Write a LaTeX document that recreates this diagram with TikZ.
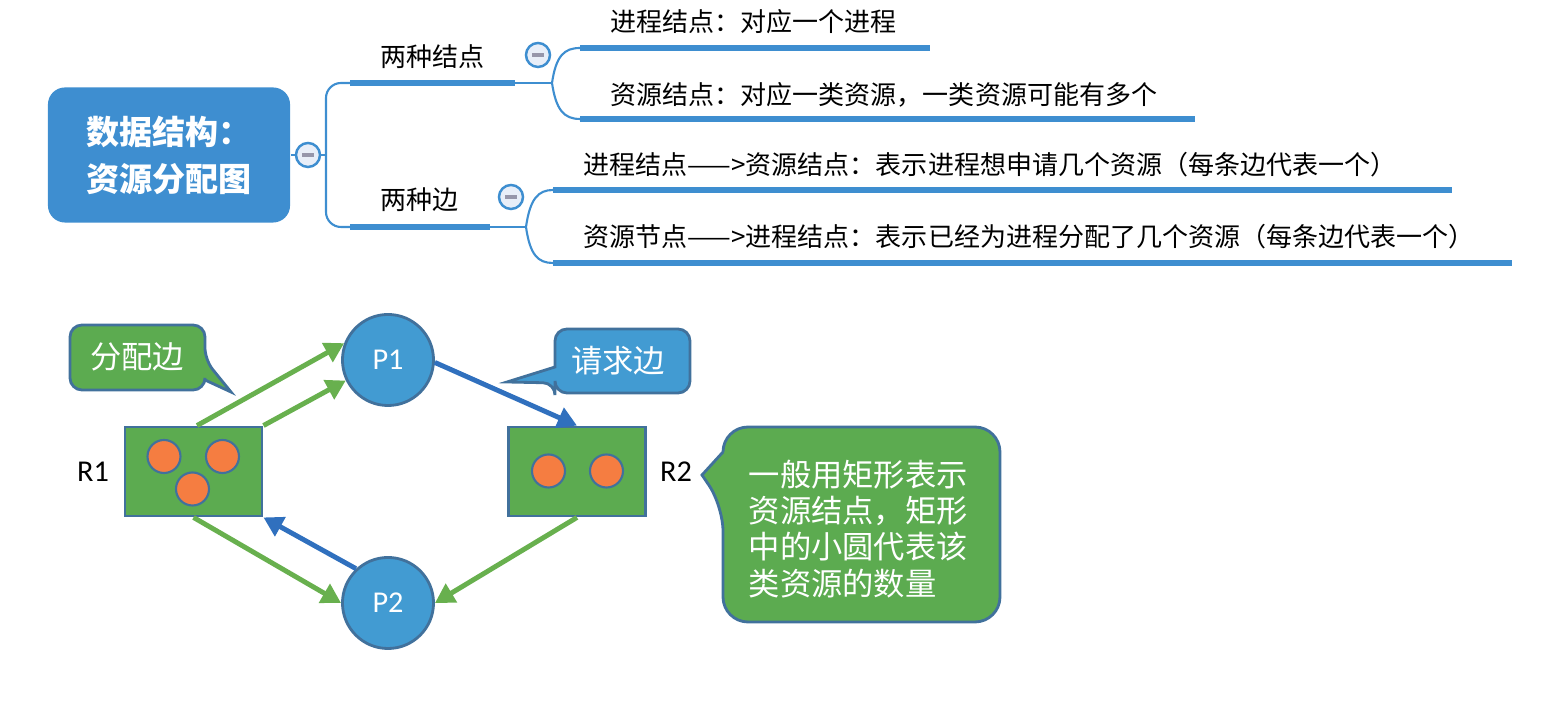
\documentclass[tikz,border=0pt]{standalone}
\usepackage{fontspec}
\newfontfamily\cjk{Noto Sans CJK SC}
\newfontfamily\calfont{Carlito}
\usetikzlibrary{arrows.meta}
\definecolor{mmblue}{RGB}{62,142,208}
\definecolor{cfill}{RGB}{232,238,248}
\definecolor{minusgray}{RGB}{150,150,170}
\definecolor{boxgreen}{RGB}{92,171,80}
\definecolor{circblue}{RGB}{66,155,210}
\definecolor{bordercol}{RGB}{65,113,156}
\definecolor{dotorange}{RGB}{245,125,65}
\definecolor{argreen}{RGB}{104,176,78}
\definecolor{arblue}{RGB}{48,112,190}
\begin{document}
\begin{tikzpicture}[x=0.01cm,y=-0.01cm,
  mmline/.style={draw=mmblue, line width=0.6pt},
  mmbar/.style={draw=mmblue, line width=1.7pt},
  mmtext/.style={font=\cjk\fontsize{7.4pt}{9pt}\selectfont, inner sep=0pt, anchor=west},
  collapse/.style={circle, draw=mmblue, fill=cfill, line width=0.7pt, minimum size=0.24cm, inner sep=0pt},
  minus/.style={draw=minusgray, line width=1.2pt},
  titlebox/.style={rectangle, rounded corners=1.7mm, fill=mmblue, draw=none, minimum width=2.42cm, minimum height=1.35cm, text=white, align=left, font=\cjk\bfseries\fontsize{9.4pt}{13.4pt}\selectfont},
  res/.style={rectangle, fill=boxgreen, draw=bordercol, line width=0.8pt, minimum width=1.37cm, minimum height=0.89cm, inner sep=0pt},
  dot/.style={circle, fill=dotorange, draw=bordercol, line width=0.6pt, minimum size=0.33cm, inner sep=0pt},
  proc/.style={circle, fill=circblue, draw=bordercol, line width=0.8pt, minimum size=0.91cm, inner sep=0pt, text=white, font=\calfont\fontsize{8.6pt}{10pt}\selectfont},
  lbl/.style={font=\calfont\fontsize{8.6pt}{10pt}\selectfont, inner sep=0pt},
  ctext/.style={font=\cjk\fontsize{8.9pt}{10.3pt}\selectfont, text=white, inner sep=0pt},
  callg/.style={fill=boxgreen, draw=bordercol, line width=0.8pt},
  callb/.style={fill=circblue, draw=bordercol, line width=0.8pt},
  garrow/.style={draw=argreen, line width=1.4pt, -{Triangle[length=5.5pt,width=6pt]}},
  barrow/.style={draw=arblue, line width=1.4pt, -{Triangle[length=5.5pt,width=6pt]}}
]
\useasboundingbox (0,0) rectangle (1568,713);

% ---------------- mind map ----------------
\node[titlebox] (root) at (169,155) {数据结构：\\资源分配图};
\node[collapse] (c0) at (308,155) {};
\draw[minus] ([xshift=-1.7pt]c0.center) -- ([xshift=1.7pt]c0.center);
\draw[mmline] (root.east) -- (c0.west);
\coordinate (j0) at (326,155);
\coordinate (a1) at (350,83);
\coordinate (a2) at (350,227);
\draw[mmline] (c0.east) -- (j0);
\draw[mmline, rounded corners=1.5mm] (a1) -- (326,83) -- (326,227) -- (a2);

\coordinate (b1) at (515,83);
\coordinate (b2) at (490,227);
\draw[mmbar] (a1) -- (b1);
\draw[mmbar] (a2) -- (b2);
\node[mmtext] (n1) at (380,57) {两种结点};
\node[mmtext] (n2) at (380,200) {两种边};

\node[collapse] (c1) at (538,55) {};
\draw[minus] ([xshift=-1.7pt]c1.center) -- ([xshift=1.7pt]c1.center);
\node[collapse] (c2) at (511,197) {};
\draw[minus] ([xshift=-1.7pt]c2.center) -- ([xshift=1.7pt]c2.center);

% top sub branch
\coordinate (k1) at (552,83);
\coordinate (s1) at (580,48);
\coordinate (s2) at (580,119);
\draw[mmline] (b1) -- (k1);
\draw[mmline] (k1) .. controls (556,56) and (564,48) .. (s1);
\draw[mmline] (k1) .. controls (556,110) and (564,119) .. (s2);
\draw[mmbar] (s1) -- (930,48);
\draw[mmbar] (s2) -- (1195,119);
\node[mmtext] (t1) at (610,22) {进程结点：对应一个进程};
\node[mmtext] (t2) at (610,95) {资源结点：对应一类资源，一类资源可能有多个};

% bottom sub branch
\coordinate (k2) at (526,227);
\coordinate (s3) at (553,190);
\coordinate (s4) at (553,263);
\draw[mmline] (b2) -- (k2);
\draw[mmline] (k2) .. controls (530,199) and (538,190) .. (s3);
\draw[mmline] (k2) .. controls (530,255) and (538,263) .. (s4);
\draw[mmbar] (s3) -- (1452,190);
\draw[mmbar] (s4) -- (1512,263);
\node[mmtext] (t3) at (583,165) {进程结点——>资源结点：表示进程想申请几个资源（每条边代表一个）};
\node[mmtext] (t4) at (583,237) {资源节点——>进程结点：表示已经为进程分配了几个资源（每条边代表一个）};

% ---------------- resource allocation graph ----------------
\node[res] (R1) at (193.5,471.5) {};
\node[res] (R2) at (577,471.5) {};
\node[dot] (d1) at (164,456.5) {};
\node[dot] (d2) at (222.5,456.5) {};
\node[dot] (d3) at (192.5,489) {};
\node[dot] (d4) at (548.5,471) {};
\node[dot] (d5) at (606.5,471) {};
\node[proc] (P1) at (388,360) {P1};
\node[proc] (P2) at (388,603) {P2};
\node[lbl] (L1) at (93,472) {R1};
\node[lbl] (L2) at (676,472) {R2};

\draw[garrow] ([xshift=1pt]R1.north) -- (P1.159);
\draw[garrow] (R1.north east) -- (P1.206);
\draw[barrow] (P1.-3) -- (R2.north);
\draw[barrow] (P2.133) -- (R1.south east);
\draw[garrow] (R1.south) -- (P2.west);
\draw[garrow] (R2.south) -- (P2.east);

% callouts
\draw[callg, rounded corners=1.2mm] (137,325) -- (205,325) -- (205,360) [sharp corners] -- (231,392) -- (205,380) [rounded corners=1.2mm] -- (205,390) -- (70,390) -- (70,325) -- cycle;
\node[ctext] (cg) at (137,357) {分配边};

\draw[callb, rounded corners=1.2mm] (620,329) -- (690,329) -- (690,393) -- (555,393) -- (555,383) [sharp corners] -- (507,382) -- (555,367) [rounded corners=1.2mm] -- (555,329) -- cycle;
\node[ctext] (cb) at (618,361) {请求边};

\draw[callg, rounded corners=2.5mm] (860,427) -- (1000,427) -- (1000,622) -- (723,622) -- (723,506) [sharp corners] -- (702,475) -- (723,452) [rounded corners=2.5mm] -- (723,427) -- cycle;
\node[ctext, anchor=west, align=left] (cbig) at (748,529) {一般用矩形表示\\资源结点，矩形\\中的小圆代表该\\类资源的数量};
\end{tikzpicture}
\end{document}
